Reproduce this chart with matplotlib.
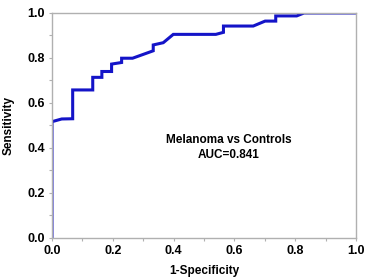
import matplotlib
matplotlib.use('Agg')
import matplotlib.pyplot as plt
from matplotlib.ticker import MultipleLocator

plt.rcParams['font.family'] = ['Liberation Sans', 'DejaVu Sans']

# ROC curve points
fpr = [0.0, 0.0, 0.032, 0.068, 0.068, 0.134, 0.134, 0.164, 0.164, 0.196, 0.196,
       0.229, 0.229, 0.265, 0.333, 0.333, 0.366, 0.399, 0.539, 0.564, 0.564,
       0.662, 0.701, 0.736, 0.736, 0.805, 0.829, 1.0]
tpr = [0.0, 0.517, 0.529, 0.53, 0.658, 0.658, 0.714, 0.714, 0.74, 0.74, 0.773,
       0.78, 0.799, 0.799, 0.832, 0.858, 0.868, 0.905, 0.905, 0.914, 0.942,
       0.942, 0.964, 0.964, 0.987, 0.987, 1.0, 1.0]

title_txt = 'Melanoma vs Controls'
auc_txt = 'AUC=0.841'

fig = plt.figure(figsize=(3.67, 2.80), dpi=100)
ax = fig.add_axes([0.1417, 0.15, 0.8283, 0.8036])

ax.plot(fpr, tpr, color='#1414c8', lw=2.2, solid_joinstyle='miter')

ax.set_xlim(0, 1)
ax.set_ylim(0, 1)
ax.xaxis.set_major_locator(MultipleLocator(0.2))
ax.yaxis.set_major_locator(MultipleLocator(0.2))
ax.xaxis.set_minor_locator(MultipleLocator(0.1))
ax.yaxis.set_minor_locator(MultipleLocator(0.1))
ax.xaxis.set_major_formatter(plt.FormatStrFormatter('%.1f'))
ax.yaxis.set_major_formatter(plt.FormatStrFormatter('%.1f'))

for s in ax.spines.values():
    s.set_color('#b0b0b0')
    s.set_linewidth(1.0)
ax.tick_params(which='both', colors='#b0b0b0', length=2, width=0.8,
               labelcolor='black', labelsize=9, pad=3)
for lab in ax.get_xticklabels() + ax.get_yticklabels():
    lab.set_fontweight('bold')

ax.set_xlabel('1-Specificity', fontsize=8.5, fontweight='bold', labelpad=6)
ax.set_ylabel('Sensitivity', fontsize=8.5, fontweight='bold', labelpad=9)

ax.text(0.58, 0.436, title_txt, fontsize=8.5, fontweight='bold', ha='center', va='center')
ax.text(0.58, 0.369, auc_txt, fontsize=8.5, fontweight='bold', ha='center', va='center')

fig.savefig('out.png', dpi=100)
